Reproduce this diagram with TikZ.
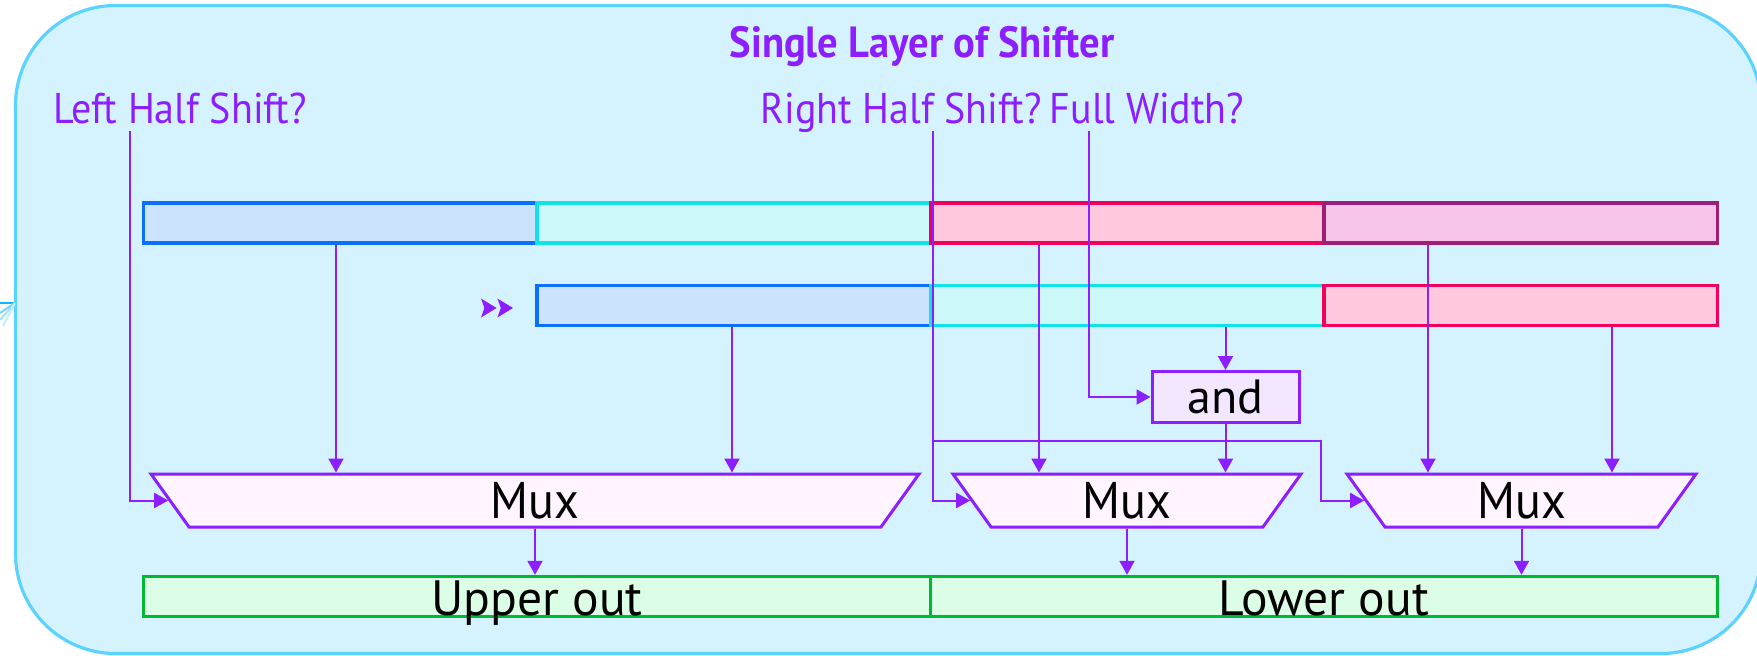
\documentclass[tikz,border=0pt]{standalone}
\usepackage{fontspec}
\setmainfont{PT Sans}
\newfontfamily\narrowsans{PT Sans}[FakeStretch=0.93]
\usetikzlibrary{arrows.meta,shapes.geometric}

\definecolor{panelfill}{HTML}{D4F3FE}
\definecolor{panelline}{HTML}{5CD3FF}
\definecolor{wire}{HTML}{8C1EFF}
\definecolor{blueline}{HTML}{0A6EFF}
\definecolor{bluefill}{HTML}{CCE3FE}
\definecolor{cyanline}{HTML}{12E2E8}
\definecolor{cyanfill}{HTML}{CCF8FA}
\definecolor{redline}{HTML}{F0005A}
\definecolor{redfill}{HTML}{FFC8DE}
\definecolor{plumline}{HTML}{A01E78}
\definecolor{plumfill}{HTML}{F6C4E6}
\definecolor{greenline}{HTML}{00B932}
\definecolor{greenfill}{HTML}{DCFEE6}
\definecolor{muxfill}{HTML}{FFF4FF}
\definecolor{andfill}{HTML}{F3E6FF}
\definecolor{edgeblue}{HTML}{10B4FF}

\tikzset{
  field/.style={rectangle, inner sep=0pt, minimum width=196.75pt, minimum height=20pt, line width=1.9pt},
  bluefield/.style={field, draw=blueline, fill=bluefill},
  cyanfield/.style={field, draw=cyanline, fill=cyanfill},
  redfield/.style={field, draw=redline, fill=redfill},
  plumfield/.style={field, draw=plumline, fill=plumfill},
  outfield/.style={rectangle, inner sep=0pt, minimum width=393.5pt, minimum height=20pt,
    line width=1.7pt, draw=greenline, fill=greenfill,
    font=\fontsize{24.8}{26}\selectfont, text height=18.5pt, text depth=0pt},
  muxbox/.style={trapezium, shape border rotate=180, trapezium angle=44,
    trapezium stretches body, inner sep=0pt, minimum height=26.5pt,
    line width=1.5pt, draw=wire, fill=muxfill, font=\narrowsans\fontsize{25.8}{27}\selectfont},
  andbox/.style={rectangle, inner sep=0pt, minimum width=73.5pt, minimum height=25.5pt,
    line width=1.5pt, draw=wire, fill=andfill, font=\fontsize{24}{26}\selectfont},
  ctl/.style={text=wire, inner sep=0pt, anchor=base, font=\narrowsans\fontsize{21.5}{24}\selectfont},
  conn/.style={draw=wire, line width=1pt, -{Triangle[length=7pt,width=7.5pt]}},
}

\begin{document}
\begin{tikzpicture}[x=0.5pt, y=-0.5pt]
\useasboundingbox (0,0) rectangle (1757,655);

% panel
\draw[panelline, fill=panelfill, line width=1.6pt, rounded corners=50pt]
  (15.5,5.5) rectangle (1761,653.5);
% incoming arrow tip at the panel's left edge
\draw[edgeblue, line width=1.2pt] (0,303) -- (15,303);
\draw[edgeblue!60, line width=1pt] (0,313) -- (15,303);
\draw[edgeblue!40, line width=1pt] (0,320) -- (15,303);
\draw[edgeblue!25, line width=1pt] (3,326) -- (15,303);

% title and control labels
\node[ctl, font=\narrowsans\fontsize{21.8}{24}\selectfont\bfseries] (title) at (922,57) {Single Layer of Shifter};
\node[ctl] (lhs) at (180,123) {Left Half Shift?};
\node[ctl] (rhs) at (901,123) {Right Half Shift?};
\node[ctl] (fw)  at (1147,123) {Full Width?};

% input word
\node[bluefield] (inA) at (340.25,223) {};
\node[cyanfield] (inB) at (733.75,223) {};
\node[redfield]  (inC) at (1127.25,223) {};
\node[plumfield] (inD) at (1520.75,223) {};

% shift marker: two solid chevrons
\node[inner sep=0pt, minimum width=16pt, minimum height=9.5pt,
  path picture={
    \fill[wire] (path picture bounding box.north west)
      -- ++(7.8pt,-4.75pt) -- ++(-7.8pt,-4.75pt) -- ++(1.7pt,4.75pt) -- cycle;
    \fill[wire] ([xshift=8.2pt]path picture bounding box.north west)
      -- ++(7.8pt,-4.75pt) -- ++(-7.8pt,-4.75pt) -- ++(1.7pt,4.75pt) -- cycle;
  }] (shr) at (497,308) {};
\node[bluefield] (shA) at (733.75,305.5) {};
\node[cyanfield] (shB) at (1127.25,305.5) {};
\node[redfield]  (shC) at (1520.75,305.5) {};

% outputs
\node[outfield] (upper) at (537,596.5) {Upper out};
\node[outfield] (lower) at (1324,596.5) {Lower out};

% multiplexers and gate
\node[muxbox, minimum width=384pt] (mux1) at (535,500.5) {Mux};
\node[muxbox, minimum width=174pt] (mux2) at (1127,500.5) {Mux};
\node[muxbox, minimum width=174.5pt] (mux3) at (1521.5,500.5) {Mux};
\node[andbox] (and) at (1225.5,397) {and};

% wiring columns
\coordinate (cA) at (336,0);
\coordinate (cE) at (732,0);
\coordinate (cC) at (1039,0);
\coordinate (cD) at (1428,0);
\coordinate (cG) at (1612,0);
\coordinate (lhsTop) at (130,131);
\coordinate (rhsTop) at (933,131);
\coordinate (rhsTap) at (933,441);
\coordinate (rhsBend) at (1321,441);
\coordinate (fwTop) at (1089,131);

% data paths
\draw[conn] (inA.south -| cA) -- (mux1.north -| cA);
\draw[conn] (shA.south -| cE) -- (mux1.north -| cE);
\draw[conn] (inC.south -| cC) -- (mux2.north -| cC);
\draw[conn] (shB.south -| and.north) -- (and.north);
\draw[conn] (and.south) -- (mux2.north -| and.south);
\draw[conn] (inD.south -| cD) -- (mux3.north -| cD);
\draw[conn] (shC.south -| cG) -- (mux3.north -| cG);

% control paths
\draw[conn] (lhsTop) |- (mux1.west);
\draw[conn] (rhsTop) |- (mux2.west);
\draw[conn] (rhsTap) -- (rhsBend) |- (mux3.west);
\draw[conn] (fwTop) |- (and.west);

% results
\draw[conn] (mux1.south) -- (upper.north -| mux1.south);
\draw[conn] (mux2.south) -- (lower.north -| mux2.south);
\draw[conn] (mux3.south) -- (lower.north -| mux3.south);
\end{tikzpicture}
\end{document}
